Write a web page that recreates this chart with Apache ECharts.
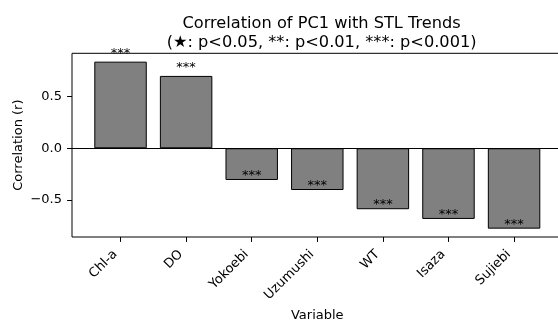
<!DOCTYPE html>
<html>
<head>
<meta charset="utf-8">
<script src="https://cdn.jsdelivr.net/npm/echarts@6/dist/echarts.min.js"></script>
<style>
  html, body { margin: 0; padding: 0; background: #fff; }
  #chart { width: 558px; height: 325px; }
</style>
</head>
<body>
<div id="chart"></div>
<script>
// Correlation of PC1 with each variable's STL trend
const variables = ['Chl-a', 'DO', 'Yokoebi', 'Uzumushi', 'WT', 'Isaza', 'Sujiebi'];
const correlations = [0.838, 0.700, -0.307, -0.404, -0.590, -0.684, -0.778];
const significance = ['***', '***', '***', '***', '***', '***', '***'];
const yTicks = [-0.5, 0.0, 0.5];

const FONT = 'DejaVu Sans';

// axis limits padded by 5% of the data span on each side
const xPad = 0.05 * ((variables.length - 1 + 0.4) - (-0.4));
const xMin = -0.4 - xPad;
const xMax = variables.length - 1 + 0.4 + xPad;
const yLo = Math.min(0, ...correlations);
const yHi = Math.max(0, ...correlations);
const yPad = 0.05 * (yHi - yLo);

const fmtNum = v => v.toFixed(1).replace('-', '\u2212');

const barData = correlations.map((r, i) => ({
  value: [i, r],
  label: r >= 0
    ? { position: 'top', distance: 2 }
    : { position: 'insideBottom', distance: 0, offset: [0, 2] }
}));

const chart = echarts.init(document.getElementById('chart'), null, { renderer: 'canvas' });
chart.setOption({
  animation: false,
  backgroundColor: '#ffffff',
  textStyle: { fontFamily: FONT },
  title: {
    text: 'Correlation of PC1 with STL Trends\n(\u2605: p<0.05, **: p<0.01, ***: p<0.001)',
    left: 316.6,
    top: 10,
    textAlign: 'center',
    textStyle: { fontFamily: FONT, fontSize: 16.2, fontWeight: 'normal', color: '#000', lineHeight: 18.5 }
  },
  grid: {
    left: 72, top: 53.3, width: 490.6, height: 183.7,
    show: true, borderColor: '#000', borderWidth: 1, backgroundColor: 'transparent',
    containLabel: false,
    outerBoundsMode: 'none'
  },
  xAxis: {
    type: 'value',
    min: xMin, max: xMax,
    name: 'Variable', nameLocation: 'middle', nameGap: 72,
    nameTextStyle: { fontFamily: FONT, fontSize: 13, color: '#000' },
    axisLine: { show: false, onZero: false },
    splitLine: { show: false },
    axisTick: { show: true, length: 4.9, lineStyle: { color: '#000', width: 1 },
                customValues: variables.map((_, i) => i) },
    axisLabel: {
      customValues: variables.map((_, i) => i),
      formatter: v => variables[Math.round(v)] || '',
      rotate: 45, margin: 10,
      padding: [0, 7.5, 0, 0],
      fontFamily: FONT, fontSize: 13, color: '#000'
    }
  },
  yAxis: {
    type: 'value',
    min: yLo - yPad, max: yHi + yPad,
    name: 'Correlation (r)', nameLocation: 'middle', nameGap: 47, nameMoveOverlap: false,
    nameTextStyle: { fontFamily: FONT, fontSize: 13, color: '#000' },
    axisLine: { show: false, onZero: false },
    splitLine: { show: false },
    axisTick: { show: true, length: 4.9, lineStyle: { color: '#000', width: 1 }, customValues: yTicks },
    axisLabel: {
      customValues: yTicks,
      formatter: fmtNum,
      margin: 10,
      fontFamily: FONT, fontSize: 13, color: '#000'
    }
  },
  series: [{
    type: 'bar',
    data: barData,
    barWidth: '80%',
    itemStyle: { color: '#808080', borderColor: '#000', borderWidth: 1 },
    label: {
      show: true,
      formatter: p => significance[p.dataIndex],
      fontFamily: FONT, fontSize: 13, color: '#000', textBorderWidth: 0
    },
    markLine: {
      silent: true,
      symbol: 'none',
      label: { show: false },
      lineStyle: { color: '#000', width: 1, type: 'solid' },
      data: [{ yAxis: 0 }]
    }
  }]
});
</script>
</body>
</html>
